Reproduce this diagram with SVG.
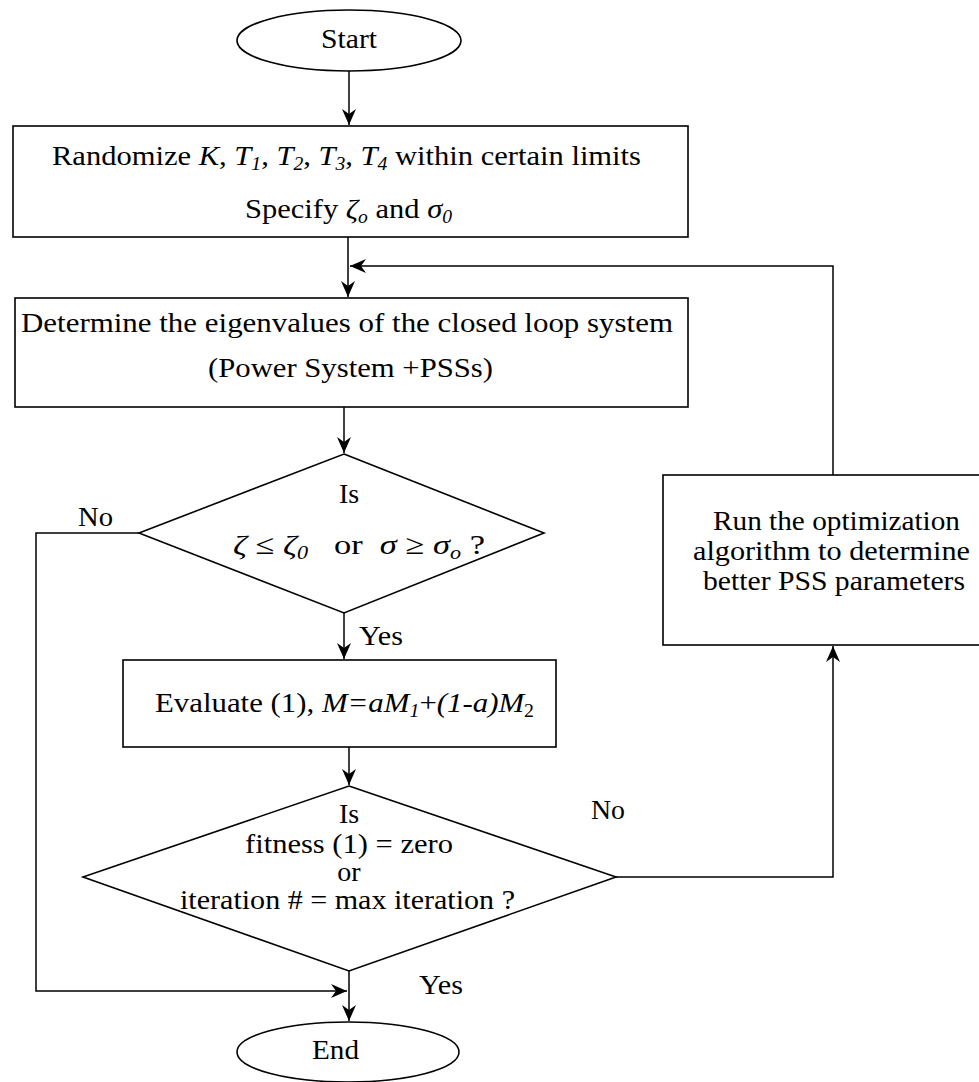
<svg xmlns="http://www.w3.org/2000/svg" width="979" height="1082" viewBox="0 0 979 1082">
<style>
text{font-family:"Liberation Serif","Times New Roman",serif;font-size:28px;fill:#000}
.i{font-style:italic}
.s{font-size:18px}
.shape{fill:#fff;stroke:#000;stroke-width:1.6}
.conn{fill:none;stroke:#000;stroke-width:1.5}
</style>
<defs>
<marker id="ah" viewBox="0 0 16 14" refX="16" refY="7" markerWidth="16" markerHeight="14" markerUnits="userSpaceOnUse" orient="auto">
<path d="M0,0 L16,7 L0,14 L5,7 z" fill="#000"/>
</marker>
</defs>
<rect width="979" height="1082" fill="#fff"/>

<g id="connectors">
<path class="conn" d="M349,71 V125" marker-end="url(#ah)"/>
<path class="conn" d="M348,237 V297" marker-end="url(#ah)"/>
<path class="conn" d="M344,407 V453" marker-end="url(#ah)"/>
<path class="conn" d="M344,613 V659" marker-end="url(#ah)"/>
<path class="conn" d="M349,747 V785" marker-end="url(#ah)"/>
<path class="conn" d="M349,971 V1021" marker-end="url(#ah)"/>
<path class="conn" d="M139,533 H36 V991 H347" marker-end="url(#ah)"/>
<path class="conn" d="M616,877 H833 V646" marker-end="url(#ah)"/>
<path class="conn" d="M833,475 V266 H350" marker-end="url(#ah)"/>
</g>

<g id="start">
<ellipse class="shape" cx="349" cy="40.5" rx="112" ry="30.5"/>
<text x="321" y="48" textLength="56" lengthAdjust="spacingAndGlyphs">Start</text>
</g>

<g id="randomize">
<rect class="shape" x="13" y="126" width="675" height="111"/>
<text x="52" y="165" textLength="589" lengthAdjust="spacingAndGlyphs">Randomize <tspan class="i">K</tspan>, <tspan class="i">T</tspan><tspan class="i s" dy="5">1</tspan><tspan dy="-5">, </tspan><tspan class="i">T</tspan><tspan class="i s" dy="5">2</tspan><tspan dy="-5">, </tspan><tspan class="i">T</tspan><tspan class="i s" dy="5">3</tspan><tspan dy="-5">, </tspan><tspan class="i">T</tspan><tspan class="i s" dy="5">4</tspan><tspan dy="-5"> within certain limits</tspan></text>
<text x="245" y="218" textLength="207" lengthAdjust="spacingAndGlyphs">Specify <tspan class="i">ζ</tspan><tspan class="i s" dy="5">o</tspan><tspan dy="-5"> and </tspan><tspan class="i">σ</tspan><tspan class="i s" dy="5">0</tspan></text>
</g>

<g id="eigen">
<rect class="shape" x="15" y="298" width="673" height="109"/>
<text x="21" y="332" textLength="652" lengthAdjust="spacingAndGlyphs">Determine the eigenvalues of the closed loop system</text>
<text x="208" y="377" textLength="285" lengthAdjust="spacingAndGlyphs">(Power System +PSSs)</text>
</g>

<g id="check1">
<polygon class="shape" points="344,454 544,533 344,613 139,533"/>
<text x="349" y="503" text-anchor="middle">Is</text>
<text x="233" y="554" textLength="252" lengthAdjust="spacingAndGlyphs"><tspan class="i">ζ</tspan>&#160;≤&#160;<tspan class="i">ζ</tspan><tspan class="i s" dy="5">0</tspan><tspan dy="-5">&#160;&#160;&#160;or&#160;&#160;</tspan><tspan class="i">σ</tspan>&#160;≥&#160;<tspan class="i">σ</tspan><tspan class="i s" dy="5">o</tspan><tspan dy="-5">&#160;?</tspan></text>
</g>

<g id="evaluate">
<rect class="shape" x="123" y="660" width="433" height="87"/>
<text x="155" y="712" textLength="379" lengthAdjust="spacingAndGlyphs">Evaluate (1), <tspan class="i">M=aM</tspan><tspan class="i s" dy="5">1</tspan><tspan dy="-5">+</tspan><tspan class="i">(1-a)M</tspan><tspan class="s" dy="5">2</tspan></text>
</g>

<g id="check2">
<polygon class="shape" points="349,786 616,877 349,971 83,877"/>
<text x="349" y="823" text-anchor="middle">Is</text>
<text x="245" y="853" textLength="208" lengthAdjust="spacingAndGlyphs">fitness (1) = zero</text>
<text x="349" y="881" text-anchor="middle">or</text>
<text x="180" y="909" textLength="335" lengthAdjust="spacingAndGlyphs">iteration # = max iteration ?</text>
</g>

<g id="optimize">
<rect class="shape" x="663" y="475" width="318" height="170"/>
<text x="713" y="530" textLength="247" lengthAdjust="spacingAndGlyphs">Run the optimization</text>
<text x="693" y="560" textLength="277" lengthAdjust="spacingAndGlyphs">algorithm to determine</text>
<text x="703" y="590" textLength="262" lengthAdjust="spacingAndGlyphs">better PSS parameters</text>
</g>

<g id="end">
<ellipse class="shape" cx="348" cy="1052" rx="111" ry="30"/>
<text x="312" y="1059" textLength="47" lengthAdjust="spacingAndGlyphs">End</text>
</g>

<g id="labels">
<text x="78" y="526" textLength="35" lengthAdjust="spacingAndGlyphs">No</text>
<text x="359" y="645" textLength="44" lengthAdjust="spacingAndGlyphs">Yes</text>
<text x="591" y="819" textLength="34" lengthAdjust="spacingAndGlyphs">No</text>
<text x="419" y="994" textLength="44" lengthAdjust="spacingAndGlyphs">Yes</text>
</g>
</svg>
